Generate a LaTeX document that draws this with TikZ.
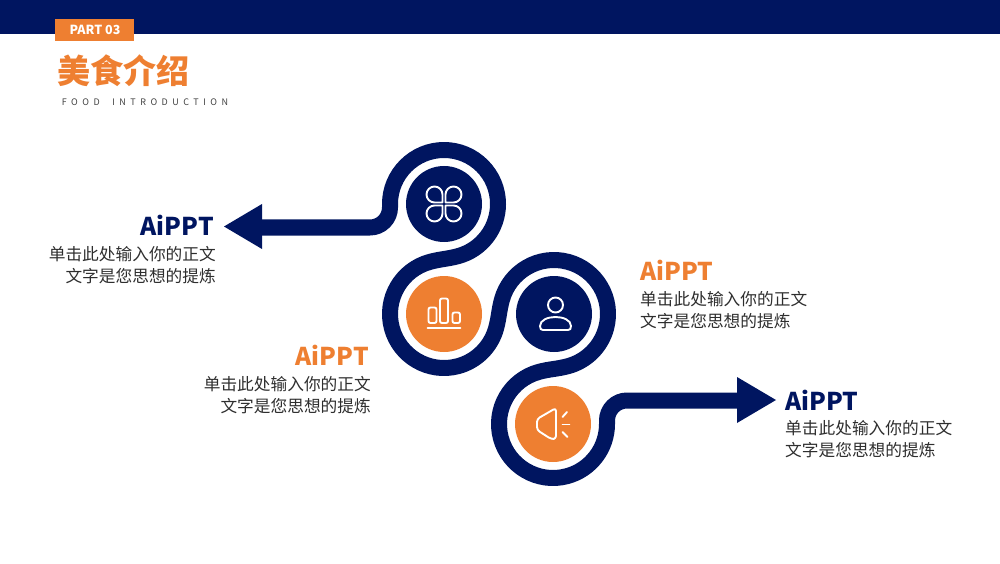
\documentclass[tikz,border=0pt]{standalone}
\usepackage{fontspec}
\setmainfont{Noto Sans CJK SC}
\newfontfamily\spacedfont[LetterSpace=50]{Noto Sans CJK SC}
\usetikzlibrary{calc}
\definecolor{navy}{HTML}{001560}
\definecolor{tangerine}{HTML}{EE7F31}
\def\bandr{54}
\tikzset{
	bandline/.style={line width=16pt, color=navy, line join=round},
	hub/.style={circle, minimum size=76pt, inner sep=0pt},
	iconline/.style={line width=1.9pt, color=white, line cap=round, line join=round},
	headline/.style={font=\fontsize{24.5}{30}\selectfont\bfseries, inner sep=0pt},
	bodytext/.style={font=\fontsize{16.7}{22}\selectfont, color=black!82, inner sep=0pt},
}
\begin{document}
\begin{tikzpicture}[x=1pt, y=1pt]
	%%%%% START %%%%%
	\useasboundingbox (0, 0) rectangle (1000, 563);
	
	\fill[navy] (0, 529) rectangle (1000, 563);
	\fill[tangerine] (55, 522) rectangle (134, 544);
	\node[font=\fontsize{12.5}{14}\selectfont\bfseries, color=white, inner sep=0pt] (part) at (95, 533) {PART 03};
	\node[font=\fontsize{33}{36}\selectfont\bfseries, color=tangerine, inner sep=0pt] (title) at (123.5, 492) {美食介绍};
	\node[font=\fontsize{9}{10}\selectfont\spacedfont, color=black!75, inner sep=0pt] (subtitle) at (145, 461) {FOOD\hspace{6pt} INTRODUCTION};
	
	\node[hub, fill=navy] (clover) at (444, 359) {};
	\node[hub, fill=tangerine] (bars) at (444, 249) {};
	\node[hub, fill=navy] (person) at (554, 249) {};
	\node[hub, fill=tangerine] (horn) at (553, 139) {};
	
	\coordinate (leftbase) at (262, 335.5);
	\coordinate (rightbase) at (737, 162.5);
	
	\draw[bandline] (leftbase) -- (370, 335.5) arc[start angle=-90, end angle=0, radius=20] -- ($(clover)+(180:\bandr)$)
		arc[start angle=180, end angle=-75, radius=\bandr]
		to[out=195, in=15] ($(bars)+(105:\bandr)$)
		arc[start angle=105, end angle=345, radius=\bandr]
		to[out=75, in=255] ($(person)+(165:\bandr)$)
		arc[start angle=165, end angle=-75, radius=\bandr]
		to[out=195, in=15] ($(horn)+(105:\bandr)$)
		arc[start angle=105, end angle=360, radius=\bandr]
		-- ($(horn)+(\bandr, 3.5)$) arc[start angle=180, end angle=90, radius=20] -- (rightbase);
	\fill[navy] (224, 336.5) -- (262, 359) -- (262, 314) -- cycle;
	\fill[navy] (776, 163) -- (737, 186) -- (737, 140) -- cycle;
	
	% clover
	\foreach \ang in {0, 90, 180, 270} {
		\draw[iconline, shift={(clover)}, rotate=\ang] (-1.5, 1.5) -- (-9.5, 1.5) arc[start angle=270, end angle=0, radius=8] -- cycle;
	}
	
	% bars
	\begin{scope}[shift={(bars)}]
		\draw[iconline] (-16.5, -14) -- (16.5, -14);
		\draw[iconline, rounded corners=2pt] (-15.5, -9) rectangle (-7.5, 6.5);
		\draw[iconline, rounded corners=2pt] (-4, -9) rectangle (4, 15.5);
		\draw[iconline, rounded corners=2pt] (8.5, -9) rectangle (16, 1.5);
	\end{scope}
	
	% person
	\begin{scope}[shift={(person)}]
		\draw[iconline] (1.5, 9) circle (7.5);
		\draw[iconline] (-14, -12) .. controls (-14, -6) and (-6, -3) .. (1.5, -3) .. controls (9, -3) and (17, -6) .. (17, -12)
			.. controls (17, -15) and (16, -16) .. (14, -16) -- (-11, -16) .. controls (-13, -16) and (-14, -15) .. cycle;
	\end{scope}
	
	% horn
	\begin{scope}[shift={(horn)}]
		\draw[iconline, rounded corners=3pt] (3, 16) -- (-16, 5) -- (-16, -6) -- (-2, -15) -- (3, -15) -- cycle;
		\draw[iconline] (9.5, 7) -- (14, 12);
		\draw[iconline] (9.5, -0.5) -- (16.5, -0.5);
		\draw[iconline] (9.5, -8) -- (14.5, -13);
	\end{scope}
	
	\node[headline, color=navy, anchor=east] (headone) at (214, 338) {AiPPT};
	\node[bodytext, align=right, anchor=east] (bodyone) at (216, 298) {单击此处输入你的正文\\文字是您思想的提炼};
	\node[headline, color=tangerine, anchor=east] (headtwo) at (369, 208) {AiPPT};
	\node[bodytext, align=right, anchor=east] (bodytwo) at (371, 168) {单击此处输入你的正文\\文字是您思想的提炼};
	\node[headline, color=tangerine, anchor=west] (headthree) at (640, 293) {AiPPT};
	\node[bodytext, align=left, anchor=west] (bodythree) at (640, 253) {单击此处输入你的正文\\文字是您思想的提炼};
	\node[headline, color=navy, anchor=west] (headfour) at (785, 163) {AiPPT};
	\node[bodytext, align=left, anchor=west] (bodyfour) at (785, 124) {单击此处输入你的正文\\文字是您思想的提炼};
	%%%%% END %%%%%
\end{tikzpicture}
\end{document}
